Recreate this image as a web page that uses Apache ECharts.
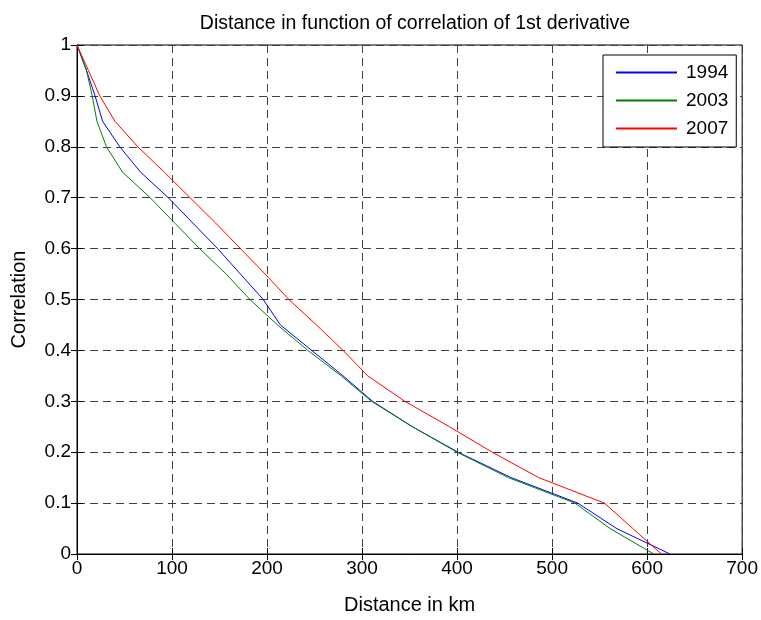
<!DOCTYPE html>
<html>
<head>
<meta charset="utf-8">
<script src="https://cdn.jsdelivr.net/npm/echarts@6/dist/echarts.min.js"></script>
<style>
  html, body { margin: 0; padding: 0; background: #fff; }
  #chart { width: 761px; height: 620px; }
</style>
</head>
<body>
<div id="chart"></div>
<script>
// distance (km) vs correlation
const data1994 = [[0, 1], [10, 0.95], [19, 0.9], [27, 0.85], [45, 0.8], [67, 0.75], [96, 0.7], [122, 0.65],
    [148, 0.6], [172, 0.55], [196, 0.5], [214, 0.45], [247, 0.4], [280, 0.35], [311, 0.3], [353, 0.25],
    [401, 0.2], [457, 0.15], [527, 0.1], [568, 0.05], [624, 0]];
const data2003 = [[0, 1], [10, 0.95], [16, 0.9], [21, 0.85], [31, 0.8], [48, 0.75], [77, 0.7], [103, 0.65],
    [129, 0.6], [157, 0.55], [182, 0.5], [211, 0.45], [243, 0.4], [278, 0.35], [310, 0.3], [353, 0.25],
    [400, 0.2], [454, 0.15], [524, 0.1], [561, 0.05], [607, 0]];
const data2007 = [[0, 1], [12, 0.95], [24, 0.9], [40, 0.85], [64, 0.8], [92, 0.75], [119, 0.7], [146, 0.65],
    [172, 0.6], [198, 0.55], [223, 0.5], [252, 0.45], [280, 0.4], [306, 0.35], [345, 0.3], [392, 0.25],
    [437, 0.2], [486, 0.15], [555, 0.1], [585, 0.05], [615, 0]];
const seriesNames = ['1994', '2003', '2007'];
const seriesColors = ['#0000ff', '#008000', '#ff0000'];

const font = 'Liberation Sans, Arial, sans-serif';
const gridLine = { show: true, lineStyle: { color: '#404040', type: [8, 5], width: 1 } };

const chart = echarts.init(document.getElementById('chart'));

const option = {
    animation: false,
    backgroundColor: '#fff',
    title: {
        text: 'Distance in function of correlation of 1st derivative',
        left: 410,
        textAlign: 'center',
        top: 9,
        textStyle: { fontFamily: font, fontSize: 19.5, fontWeight: 'normal', color: '#000' }
    },
    legend: {
        data: seriesNames,
        orient: 'vertical',
        left: 603,
        top: 55,
        padding: [8, 8, 9, 12],
        itemWidth: 61,
        itemHeight: 14,
        itemGap: 9,
        borderColor: '#000',
        borderWidth: 1,
        borderRadius: 0,
        backgroundColor: '#fff',
        itemStyle: { opacity: 0 },
        textStyle: { fontFamily: font, fontSize: 19, color: '#000', padding: [0, 0, 0, 4] }
    },
    grid: {
        left: 77,
        right: 18,
        top: 45,
        bottom: 50,
        show: true,
        borderColor: '#000',
        borderWidth: 1,
        containLabel: false
    },
    xAxis: [
        {
            type: 'value',
            min: 0,
            max: 700,
            interval: 100,
            name: 'Distance in km',
            nameLocation: 'middle',
            nameGap: 41,
            nameTextStyle: { fontFamily: font, fontSize: 20, color: '#000' },
            axisLine: { show: true, lineStyle: { color: '#000' } },
            axisTick: { show: true, inside: true, length: 6, lineStyle: { color: '#000' } },
            axisLabel: { fontFamily: font, fontSize: 19, color: '#000', margin: 5 },
            splitLine: gridLine
        },
        {
            type: 'value',
            position: 'top',
            min: 0,
            max: 700,
            interval: 100,
            axisLine: { show: true, lineStyle: { color: '#000' } },
            axisTick: { show: true, inside: true, length: 6, lineStyle: { color: '#000' } },
            axisLabel: { show: false },
            splitLine: { show: false }
        }
    ],
    yAxis: [
        {
            type: 'value',
            min: 0,
            max: 1,
            interval: 0.1,
            name: 'Correlation',
            nameLocation: 'middle',
            nameGap: 48,
            nameTextStyle: { fontFamily: font, fontSize: 20, color: '#000' },
            axisLine: { show: true, lineStyle: { color: '#000' } },
            axisTick: { show: true, inside: true, length: 6, lineStyle: { color: '#000' } },
            axisLabel: { fontFamily: font, fontSize: 19, color: '#000', margin: 6 },
            splitLine: gridLine
        },
        {
            type: 'value',
            position: 'right',
            min: 0,
            max: 1,
            interval: 0.1,
            axisLine: { show: true, lineStyle: { color: '#000' } },
            axisTick: { show: true, inside: true, length: 6, lineStyle: { color: '#000' } },
            axisLabel: { show: false },
            splitLine: { show: false }
        }
    ],
    series: [data1994, data2003, data2007].map((d, i) => ({
        name: seriesNames[i],
        type: 'line',
        data: d,
        showSymbol: false,
        symbol: 'none',
        color: seriesColors[i],
        lineStyle: { width: 1, color: seriesColors[i] },
        z: 3
    }))
};

chart.setOption(option);
</script>
</body>
</html>
